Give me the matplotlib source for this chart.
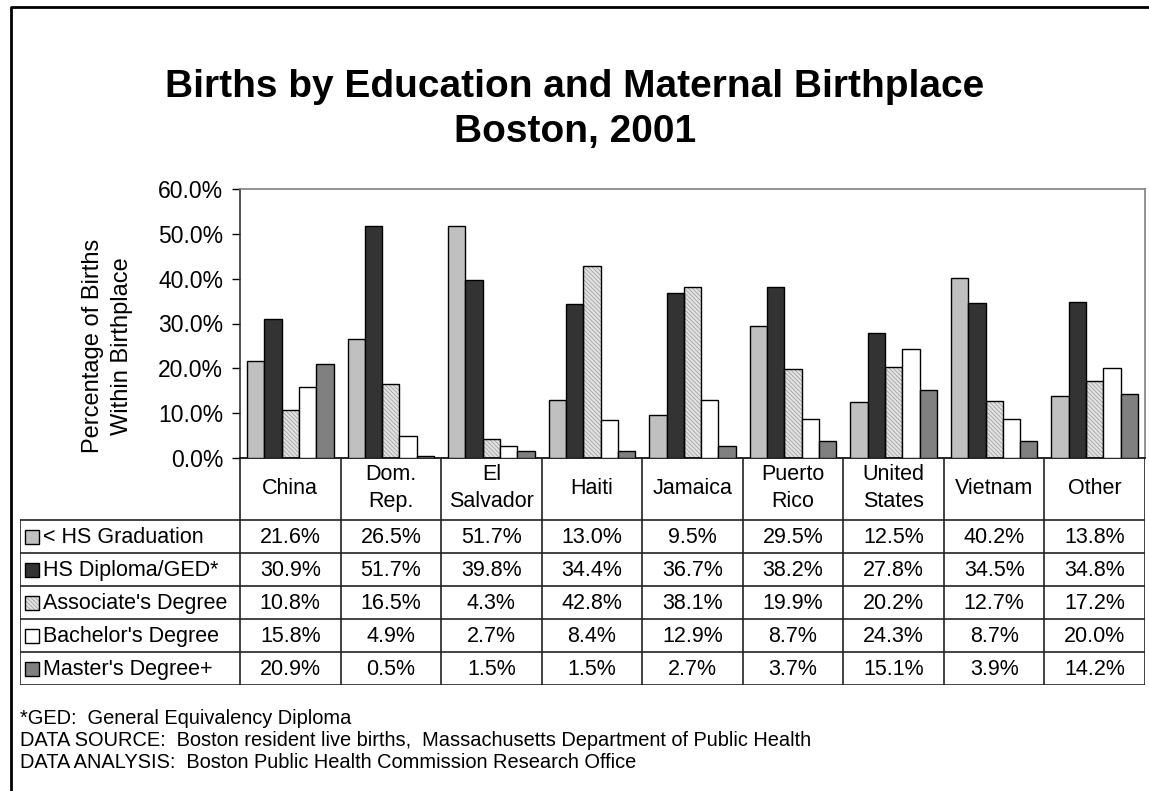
"""Births by education and maternal birthplace, Boston 2001."""

import matplotlib.pyplot as plt
import numpy as np
from matplotlib.patches import Rectangle

plt.rcParams["font.family"] = ["Liberation Sans", "DejaVu Sans"]
plt.rcParams["hatch.linewidth"] = 0.5

countries = ["China", "Dom.\nRep.", "El\nSalvador", "Haiti", "Jamaica",
             "Puerto\nRico", "United\nStates", "Vietnam", "Other"]
levels = ["< HS Graduation", "HS Diploma/GED*", "Associate's Degree",
          "Bachelor's Degree", "Master's Degree+"]

less_hs = [21.6, 26.5, 51.7, 13.0, 9.5, 29.5, 12.5, 40.2, 13.8]
hs_diploma = [30.9, 51.7, 39.8, 34.4, 36.7, 38.2, 27.8, 34.5, 34.8]
associate = [10.8, 16.5, 4.3, 42.8, 38.1, 19.9, 20.2, 12.7, 17.2]
bachelor = [15.8, 4.9, 2.7, 8.4, 12.9, 8.7, 24.3, 8.7, 20.0]
masters = [20.9, 0.5, 1.5, 1.5, 2.7, 3.7, 15.1, 3.9, 14.2]

series = [less_hs, hs_diploma, associate, bachelor, masters]
fills = ["#c0c0c0", "#333333", "#e2e2e2", "#ffffff", "#808080"]
hatches = [None, None, "\\\\\\\\\\\\\\\\", None, None]
HATCH_COLOR = "#999999"

W, H = 1149, 791
fig = plt.figure(figsize=(W / 100, H / 100), dpi=100)

# outer frame (only left/top visible in original)
frame = fig.add_axes([0, 0, 1, 1])
frame.set_xlim(0, W)
frame.set_ylim(H, 0)
frame.axis("off")
frame.plot([11, 11, W + 5], [H + 5, 7, 7], color="black", lw=2, clip_on=False)

fig.text(575 / W, 1 - 87 / H, "Births by Education and Maternal Birthplace",
         ha="center", va="center", fontsize=28, fontweight="bold")
fig.text(575 / W, 1 - 132 / H, "Boston, 2001",
         ha="center", va="center", fontsize=28, fontweight="bold")

# bar chart
left, right, top, base = 240, 1145, 189, 458
ax = fig.add_axes([left / W, 1 - base / H, (right - left) / W, (base - top) / H])
x = np.arange(len(countries))
bw = 0.86 / 5
for i, vals in enumerate(series):
    pos = x + (i - 2) * bw
    if hatches[i]:
        ax.bar(pos, vals, bw, color=fills[i], edgecolor=HATCH_COLOR,
               hatch=hatches[i], linewidth=0, zorder=2)
        ax.bar(pos, vals, bw, facecolor="none", edgecolor="black",
               linewidth=1.0, zorder=3)
    else:
        ax.bar(pos, vals, bw, color=fills[i], edgecolor="black",
               linewidth=1.0, zorder=3)

ax.set_xlim(-0.5, len(countries) - 0.5)
ax.set_ylim(0, 60)
ax.set_yticks(np.arange(0, 61, 10))
ax.set_yticklabels([f"{v:.1f}%" for v in np.arange(0, 61, 10)], fontsize=16.5)
ax.tick_params(axis="y", direction="out", length=6, width=1, pad=6)
ax.set_xticks([])
ax.spines["top"].set_color("#808080")
ax.spines["right"].set_color("#808080")
ax.spines["left"].set_color("#333333")
ax.spines["bottom"].set_color("black")
for s in ax.spines.values():
    s.set_linewidth(1.2)

fig.text(93 / W, 1 - 346 / H, "Percentage of Births", rotation=90,
         ha="center", va="center", fontsize=17)
fig.text(122 / W, 1 - 346 / H, "Within Birthplace", rotation=90,
         ha="center", va="center", fontsize=17)

# data table under the chart
tab_left, tab_bottom = 20, 685
header_h, row_h = 62, 33
tab = fig.add_axes([tab_left / W, 1 - tab_bottom / H,
                    (right - tab_left) / W, (tab_bottom - base) / H])
col_w = (right - left) / len(countries)
lab_w = (left - tab_left) / col_w
tab.set_xlim(-0.5 - lab_w, len(countries) - 0.5)
tab.set_ylim(header_h + 5 * row_h, 0)
tab.axis("off")

lw = 1.2
for j in range(len(countries) + 1):
    tab.plot([j - 0.5, j - 0.5], [0, header_h + 5 * row_h], color="#222222",
             lw=lw)
for j, name in enumerate(countries):
    tab.text(j, header_h / 2 - 1, name, ha="center", va="center",
             fontsize=15.5, linespacing=1.35)
for r in range(6):
    y = header_h + r * row_h
    tab.plot([-0.5 - lab_w, len(countries) - 0.5], [y, y], color="#222222",
             lw=lw)
tab.plot([-0.5 - lab_w, -0.5 - lab_w], [header_h, header_h + 5 * row_h],
         color="#222222", lw=lw)

key = 14 / col_w
for i, vals in enumerate(series):
    yc = header_h + (i + 0.5) * row_h
    kx = -0.5 - lab_w + 5 / col_w
    if hatches[i]:
        tab.add_patch(Rectangle((kx, yc - 7), key, 14, facecolor=fills[i],
                                edgecolor=HATCH_COLOR, hatch=hatches[i],
                                lw=0, zorder=3))
        tab.add_patch(Rectangle((kx, yc - 7), key, 14, facecolor="none",
                                edgecolor="black", lw=1.0, zorder=4))
    else:
        tab.add_patch(Rectangle((kx, yc - 7), key, 14, facecolor=fills[i],
                                edgecolor="black", lw=1.0, zorder=3))
    tab.text(kx + key + 4 / col_w, yc + 1, levels[i], ha="left",
             va="center", fontsize=15.5)
    for j, v in enumerate(vals):
        tab.text(j, yc + 1, f"{v:.1f}%", ha="center", va="center",
                 fontsize=15.5)

notes = ["*GED:  General Equivalency Diploma",
         "DATA SOURCE:  Boston resident live births,  Massachusetts Department of Public Health",
         "DATA ANALYSIS:  Boston Public Health Commission Research Office"]
for k, line in enumerate(notes):
    fig.text(20 / W, 1 - (718 + 22.5 * k) / H, line, ha="left", va="center",
             fontsize=14.4)

fig.savefig("out.png", dpi=100)
